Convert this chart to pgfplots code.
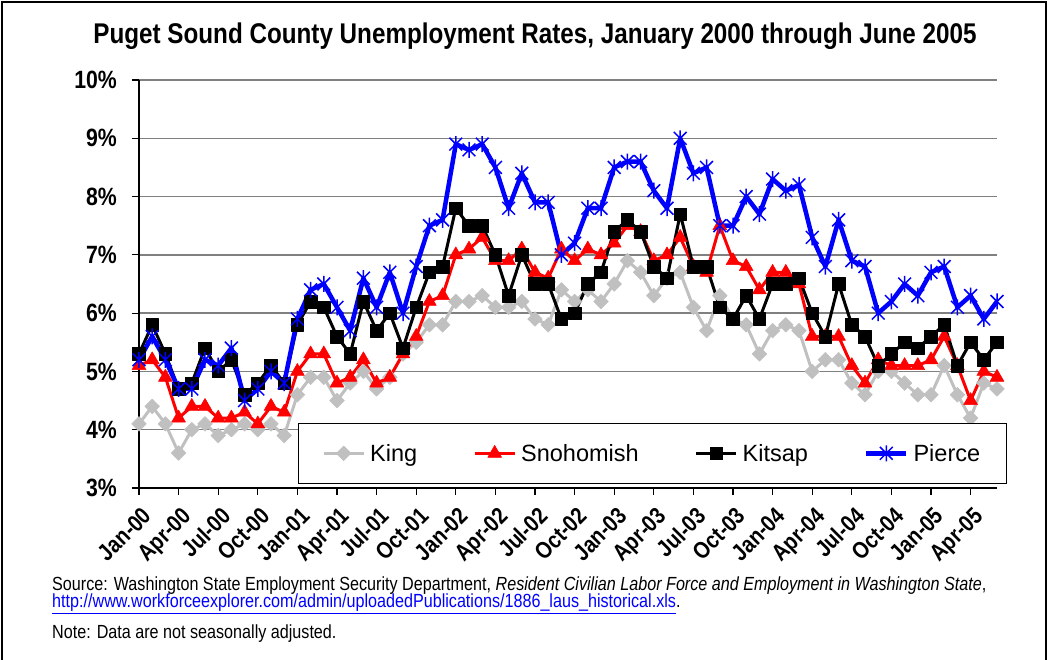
\documentclass[border=0pt]{standalone}
\usepackage{fontspec}
\setmainfont{Liberation Sans}
\newfontfamily\narrow{Liberation Sans}[FakeStretch=0.85]
\usepackage{pgfplots}
\usepackage{pgfplotstable}
\pgfplotsset{compat=1.18}
\definecolor{kingc}{RGB}{192,192,192}
\definecolor{gridc}{RGB}{128,128,128}
\pgfdeclareplotmark{xstar}{%
  \pgfpathmoveto{\pgfqpoint{0pt}{\pgfplotmarksize}}%
  \pgfpathlineto{\pgfqpoint{0pt}{-\pgfplotmarksize}}%
  \pgfpathmoveto{\pgfqpoint{-.8\pgfplotmarksize}{-.8\pgfplotmarksize}}%
  \pgfpathlineto{\pgfqpoint{.8\pgfplotmarksize}{.8\pgfplotmarksize}}%
  \pgfpathmoveto{\pgfqpoint{-.8\pgfplotmarksize}{.8\pgfplotmarksize}}%
  \pgfpathlineto{\pgfqpoint{.8\pgfplotmarksize}{-.8\pgfplotmarksize}}%
  \pgfusepathqstroke}
\pgfplotstableread{
m king sno kit pie
0 4.1 5.1 5.3 5.2
1 4.4 5.2 5.8 5.6
2 4.1 4.9 5.3 5.2
3 3.6 4.2 4.7 4.7
4 4.0 4.4 4.8 4.7
5 4.1 4.4 5.4 5.2
6 3.9 4.2 5.0 5.1
7 4.0 4.2 5.2 5.4
8 4.1 4.3 4.6 4.5
9 4.0 4.1 4.8 4.7
10 4.1 4.4 5.1 5.0
11 3.9 4.3 4.8 4.8
12 4.6 5.0 5.8 5.9
13 4.9 5.3 6.2 6.4
14 4.9 5.3 6.1 6.5
15 4.5 4.8 5.6 6.1
16 4.8 4.9 5.3 5.7
17 5.0 5.2 6.2 6.6
18 4.7 4.8 5.7 6.1
19 4.9 4.9 6.0 6.7
20 5.3 5.3 5.4 6.0
21 5.5 5.6 6.1 6.8
22 5.8 6.2 6.7 7.5
23 5.8 6.3 6.8 7.6
24 6.2 7.0 7.8 8.9
25 6.2 7.1 7.5 8.8
26 6.3 7.3 7.5 8.9
27 6.1 6.9 7.0 8.5
28 6.1 6.9 6.3 7.8
29 6.2 7.1 7.0 8.4
30 5.9 6.7 6.5 7.9
31 5.8 6.6 6.5 7.9
32 6.4 7.1 5.9 7.0
33 6.2 6.9 6.0 7.2
34 6.4 7.1 6.5 7.8
35 6.2 7.0 6.7 7.8
36 6.5 7.2 7.4 8.5
37 6.9 7.5 7.6 8.6
38 6.7 7.4 7.4 8.6
39 6.3 6.9 6.8 8.1
40 6.6 7.0 6.6 7.8
41 6.7 7.3 7.7 9.0
42 6.1 6.8 6.8 8.4
43 5.7 6.7 6.8 8.5
44 6.3 7.5 6.1 7.5
45 5.9 6.9 5.9 7.5
46 5.8 6.8 6.3 8.0
47 5.3 6.4 5.9 7.7
48 5.7 6.7 6.5 8.3
49 5.8 6.7 6.5 8.1
50 5.7 6.5 6.6 8.2
51 5.0 5.6 6.0 7.3
52 5.2 5.6 5.6 6.8
53 5.2 5.6 6.5 7.6
54 4.8 5.1 5.8 6.9
55 4.6 4.8 5.6 6.8
56 5.0 5.2 5.1 6.0
57 5.0 5.1 5.3 6.2
58 4.8 5.1 5.5 6.5
59 4.6 5.1 5.4 6.3
60 4.6 5.2 5.6 6.7
61 5.1 5.6 5.8 6.8
62 4.6 5.1 5.1 6.1
63 4.2 4.5 5.5 6.3
64 4.8 5.0 5.2 5.9
65 4.7 4.9 5.5 6.2
}\data
\begin{document}
\begin{tikzpicture}
\begin{scope}[shift={(-139pt,-172pt)}, x=1pt, y=1pt]
\useasboundingbox (0,0) rectangle (1049,660);
\draw[line width=1.2pt] (2,0) -- (2,658) -- (1046,658) -- (1046,0);
\node[font=\narrow\bfseries\fontsize{28.5}{32}\selectfont] at (535,624) {Puget Sound County Unemployment Rates, January 2000 through June 2005};
\node[anchor=base west, inner sep=0pt, font=\narrow\fontsize{19}{22}\selectfont] at (52,69) {Source: Washington State Employment Security Department, \textit{Resident Civilian Labor Force and Employment in Washington State},};
\node[anchor=base west, inner sep=0pt, font=\narrow\fontsize{19}{22}\selectfont] at (52,52) {\textcolor{blue}{\underline{http://www.workforceexplorer.com/admin/uploadedPublications/1886\_laus\_historical.xls}}.};
\node[anchor=base west, inner sep=0pt, font=\narrow\fontsize{19}{22}\selectfont] at (52,21) {Note: Data are not seasonally adjusted.};
\end{scope}
\begin{axis}[
  at={(0pt,0pt)}, anchor=south west, scale only axis,
  width=858pt, height=408pt,
  xmin=0, xmax=65, ymin=3, ymax=10,
  axis x line*=bottom, axis y line*=left,
  axis line style={black, line width=1.3pt},
  tick align=outside, major tick length=7pt,
  tick style={black, line width=1.2pt},
  ytick={3,4,5,6,7,8,9,10},
  yticklabels={3\%,4\%,5\%,6\%,7\%,8\%,9\%,10\%},
  xtick={0,3,...,63},
  xticklabels={Jan-00,Apr-00,Jul-00,Oct-00,Jan-01,Apr-01,Jul-01,Oct-01,Jan-02,Apr-02,Jul-02,Oct-02,Jan-03,Apr-03,Jul-03,Oct-03,Jan-04,Apr-04,Jul-04,Oct-04,Jan-05,Apr-05},
  yticklabel style={font=\narrow\bfseries\fontsize{25}{30}\selectfont, anchor=east, inner sep=0pt, xshift=-15pt},
  xticklabel style={font=\narrow\bfseries\fontsize{23.5}{27}\selectfont, rotate=45, anchor=north east, inner sep=0pt, xshift=-6pt, yshift=-9pt},
  ymajorgrids, grid style={gridc, line width=1.3pt},
  legend columns=4,
  legend cell align=left,
  legend image code/.code={\draw[mark repeat=2,mark phase=2] plot coordinates {(0pt,0pt) (20pt,0pt) (40pt,0pt)};},
  legend style={at={(0.185,0.0098)}, anchor=south west, draw=black, line width=0.8pt, fill=white,
    font=\fontsize{23.5}{27}\selectfont, inner xsep=24pt, inner ysep=19pt,
    /tikz/every even column/.append style={column sep=54pt},
    /tikz/every odd column/.append style={column sep=3pt}},
  clip=false
]
\addplot[color=kingc, line width=3pt, line join=round, mark=square*, mark size=5.2pt, mark options={rotate=45, fill=kingc, line width=0.5pt}] table[x=m,y=king]{\data};
\addlegendentry{King}
\addplot[color=red, line width=3pt, line join=round, mark=triangle*, mark size=8pt, mark options={fill=red, line width=0.5pt}] table[x=m,y=sno]{\data};
\addlegendentry{Snohomish}
\addplot[color=black, line width=3pt, line join=round, mark=square*, mark size=6.3pt, mark options={fill=black, line width=0.5pt}] table[x=m,y=kit]{\data};
\addlegendentry{Kitsap}
\addplot[color=blue, line width=4.5pt, line join=round, mark=xstar, mark size=8pt, mark options={line width=1.5pt}] table[x=m,y=pie]{\data};
\addlegendentry{Pierce}
\end{axis}
\end{tikzpicture}
\end{document}
